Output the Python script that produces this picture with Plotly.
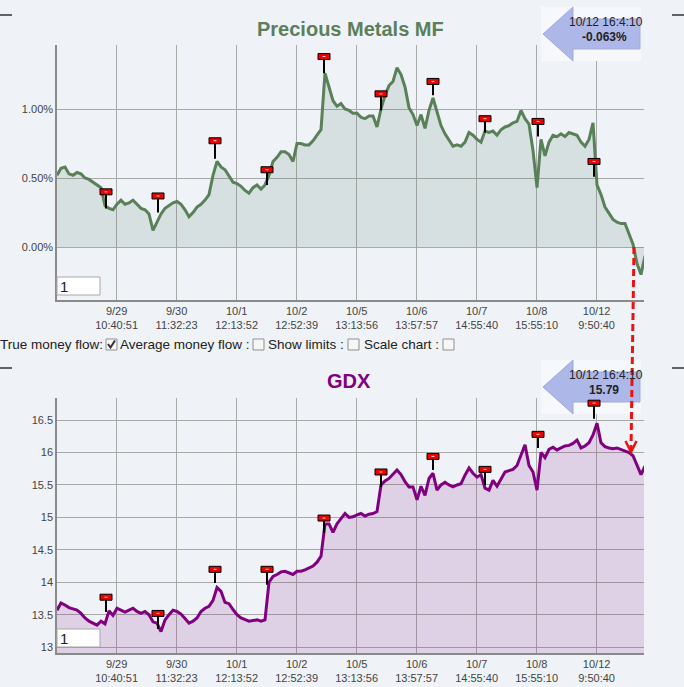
import plotly.graph_objects as go

# ---------------- data ----------------
mf_values = [
    0.52, 0.57, 0.58, 0.53, 0.52, 0.54, 0.53, 0.50, 0.49, 0.47,
    0.45, 0.43, 0.30, 0.28, 0.27, 0.31, 0.34, 0.31, 0.32, 0.34,
    0.31, 0.28, 0.27, 0.24, 0.12, 0.18, 0.24, 0.28, 0.30, 0.32,
    0.33, 0.31, 0.27, 0.22, 0.25, 0.29, 0.31, 0.34, 0.38, 0.52,
    0.62, 0.58, 0.56, 0.51, 0.47, 0.46, 0.44, 0.41, 0.39, 0.43,
    0.45, 0.42, 0.45, 0.52, 0.62, 0.65, 0.69, 0.69, 0.67, 0.62,
    0.75, 0.75, 0.74, 0.74, 0.77, 0.81, 0.85, 1.26, 1.15, 1.06,
    1.02, 1.04, 1.00, 0.99, 0.97, 0.97, 0.94, 0.93, 0.95, 0.95,
    0.87, 1.00, 1.10, 1.17, 1.20, 1.30, 1.25, 1.16, 1.01, 0.96,
    0.88, 0.96, 0.86, 0.99, 1.08, 0.97, 0.88, 0.82, 0.77, 0.73,
    0.74, 0.73, 0.76, 0.83, 0.81, 0.78, 0.76, 0.84, 0.83, 0.84,
    0.81, 0.85, 0.87, 0.88, 0.90, 0.91, 0.99, 0.93, 0.89, 0.70,
    0.43, 0.78, 0.66, 0.76, 0.81, 0.80, 0.82, 0.80, 0.83, 0.82,
    0.81, 0.76, 0.73, 0.78, 0.90, 0.45, 0.38, 0.29, 0.24, 0.20,
    0.18, 0.17, 0.17, 0.09, 0.02, -0.12, -0.20, -0.063,
]

gdx_values = [
    13.57, 13.68, 13.65, 13.61, 13.59, 13.57, 13.52, 13.45, 13.40, 13.37,
    13.34, 13.40, 13.36, 13.56, 13.49, 13.60, 13.57, 13.54, 13.57, 13.60,
    13.55, 13.52, 13.55, 13.50, 13.39, 13.37, 13.24, 13.42, 13.50, 13.57,
    13.55, 13.51, 13.44, 13.37, 13.40, 13.45, 13.55, 13.60, 13.63, 13.72,
    13.92, 13.86, 13.69, 13.67, 13.58, 13.50, 13.45, 13.42, 13.40, 13.41,
    13.42, 13.40, 13.42, 14.00, 14.09, 14.12, 14.16, 14.17, 14.15, 14.12,
    14.17, 14.17, 14.19, 14.22, 14.25, 14.31, 14.40, 14.90, 14.90, 14.77,
    14.90, 14.98, 15.06, 15.00, 15.01, 15.04, 15.06, 15.02, 15.05, 15.06,
    15.09, 15.50, 15.56, 15.60, 15.66, 15.73, 15.66, 15.55, 15.47, 15.47,
    15.27, 15.48, 15.34, 15.60, 15.68, 15.42, 15.50, 15.54, 15.50, 15.47,
    15.50, 15.52, 15.65, 15.76, 15.68, 15.62, 15.66, 15.45, 15.42, 15.57,
    15.48, 15.60, 15.70, 15.72, 15.74, 15.80, 15.95, 16.12, 15.80, 15.70,
    15.42, 16.00, 15.92, 16.05, 16.08, 16.04, 16.07, 16.10, 16.11, 16.14,
    16.19, 16.07, 16.10, 16.15, 16.27, 16.45, 16.15, 16.09, 16.07, 16.06,
    16.07, 16.05, 16.03, 16.00, 15.95, 15.80, 15.66, 15.79,
]

tick_index = [14.9, 29.9, 44.9, 59.9, 74.9, 89.9, 104.9, 119.9, 134.9]
tick_labels = ["9/29<br>10:40:51", "9/30<br>11:32:23", "10/1<br>12:13:52",
               "10/2<br>12:52:39", "10/5<br>13:13:56", "10/6<br>13:57:57",
               "10/7<br>14:55:40", "10/8<br>15:55:10", "10/12<br>9:50:40"]

mf_ticks = [0.0, 0.5, 1.0]
mf_tick_labels = ["0.00%", "0.50%", "1.00%"]
gdx_ticks = [13, 13.5, 14, 14.5, 15, 15.5, 16, 16.5]
gdx_tick_labels = ["13", "13.5", "14", "14.5", "15", "15.5", "16", "16.5"]

flag_idx = [12.25, 25.25, 39.5, 52.5, 66.75, 81, 94, 107, 120.25, 134.25]
mf_flag_hi = [0.40, 0.37, 0.77, 0.56, 1.38, 1.11, 1.20, 0.93, 0.91, 0.62]
mf_flag_lo = [0.28, 0.25, 0.64, 0.45, 1.26, 0.99, 1.10, 0.83, 0.80, 0.51]
gdx_flag_hi = [13.77, 13.52, 14.20, 14.20, 14.99, 15.70, 15.94, 15.74, 16.28, 16.76]
gdx_flag_lo = [13.54, 13.28, 13.99, 13.96, 14.76, 15.47, 15.73, 15.50, 16.07, 16.52]

last_time = "10/12 16:4:10"
mf_last_label = "-0.063%"
gdx_last_label = "15.79"

# ---------------- layout helpers ----------------
W, H = 684, 687
ML, MR = 57, 40
PW = W - ML - MR


def px(x):
    return (x - ML) / PW


def py(y):
    return 1 - y / H


FONT = "Liberation Sans, Arial, sans-serif"
BG = "#eff3f7"
GRID = "#a9a9a9"
MF_LINE = "#5a805a"
GDX_LINE = "#800080"

fig = go.Figure()
xs_mf = list(range(len(mf_values)))
xs_gdx = list(range(len(gdx_values)))

fig.add_trace(go.Scatter(x=xs_mf, y=mf_values, mode="lines", fill="tozeroy",
                         line=dict(color=MF_LINE, width=3),
                         fillcolor="rgba(95,125,105,0.16)",
                         xaxis="x", yaxis="y", hoverinfo="skip"))
fig.add_trace(go.Scatter(x=xs_gdx, y=gdx_values, mode="lines", fill="tozeroy",
                         line=dict(color=GDX_LINE, width=3),
                         fillcolor="rgba(128,20,128,0.15)",
                         xaxis="x2", yaxis="y2", hoverinfo="skip"))


def prect(x0, y0, x1, y1, **kw):
    d = dict(type="rect", xref="paper", yref="paper",
             x0=px(x0), x1=px(x1), y0=py(y1), y1=py(y0))
    d.update(kw)
    return d


def pline(x0, y0, x1, y1, **kw):
    d = dict(type="line", xref="paper", yref="paper",
             x0=px(x0), x1=px(x1), y0=py(y0), y1=py(y1))
    d.update(kw)
    return d


def ppath(pts, **kw):
    closed = kw.pop("closed", False)
    s = "M " + " L ".join(f"{px(a):.5f},{py(b):.5f}" for a, b in pts)
    if closed:
        s += " Z"
    d = dict(type="path", xref="paper", yref="paper", path=s)
    d.update(kw)
    return d


shapes = []

# arrow boxes (drawn first so flags and the red arrow sit on top)
for dy in (0, 353):
    shapes.append(prect(541, 7 + dy, 641, 61 + dy, fillcolor="#f7f8fb",
                        line=dict(width=0)))
    shapes.append(ppath([(543, 34 + dy), (573, 7 + dy), (573, 19 + dy),
                         (640, 19 + dy), (640, 49 + dy), (573, 49 + dy),
                         (573, 61 + dy)], closed=True,
                        fillcolor="#aeb8e8", line=dict(color="#9ea9e0", width=1)))

# flags: stem + red marker
for (hi, lo, xa, ya) in [(mf_flag_hi, mf_flag_lo, "x", "y"),
                         (gdx_flag_hi, gdx_flag_lo, "x2", "y2")]:
    for a, b, c in zip(flag_idx, hi, lo):
        shapes.append(dict(type="line", xref=xa, yref=ya, x0=a, x1=a, y0=c, y1=b,
                           line=dict(color="black", width=2)))
        shapes.append(dict(type="rect", xref=xa, yref=ya,
                           xsizemode="pixel", ysizemode="pixel",
                           xanchor=a, yanchor=b, x0=-6, x1=6, y0=-3, y1=3,
                           fillcolor="#ee0000", line=dict(color="black", width=1)))
        shapes.append(dict(type="rect", xref=xa, yref=ya,
                           xsizemode="pixel", ysizemode="pixel",
                           xanchor=a, yanchor=b, x0=-1.5, x1=1.5, y0=-0.5, y1=0.5,
                           fillcolor="#ffdddd", line=dict(width=0)))

# input boxes "1"
for y0 in (277, 629):
    shapes.append(prect(57, y0, 100, y0 + 18, fillcolor="white",
                        line=dict(color="#a8a8a8", width=1)))

# little dashes at the corners
for y in (15, 368):
    shapes.append(pline(0, y, 12, y, line=dict(color="#333", width=1.5)))
    shapes.append(pline(672, y, 684, y, line=dict(color="#333", width=1.5)))

# checkboxes
for x0 in (106, 253, 348, 443):
    shapes.append(prect(x0, 339, x0 + 11, 350, fillcolor="#f6f6f6",
                        line=dict(color="#8f8f8f", width=1)))
shapes.append(ppath([(108, 344), (110.5, 347.5), (115, 340.5)],
                    line=dict(color="#333", width=2)))

# red dashed arrow between the two charts
shapes.append(dict(type="line", xref="paper", yref="paper",
                   x0=px(634), y0=py(247), x1=px(631), y1=py(450),
                   line=dict(color="#ee1111", width=3, dash="7px,4px")))
shapes.append(ppath([(625.5, 441), (631, 452), (636.5, 441)],
                    line=dict(color="#ee1111", width=2.5)))


def ann(text, x, y, size, color="#222", xanchor="center", **kw):
    return dict(text=text, x=px(x), y=py(y), xref="paper", yref="paper",
                xanchor=xanchor, yanchor="middle", showarrow=False,
                font=dict(size=size, color=color, family=FONT), **kw)


annotations = [
    ann("<b>Precious Metals MF</b>", 350, 29, 20, "#5b7f5b"),
    ann("<b>GDX</b>", 349, 381, 20, "#800080"),
]
for dy, lab in ((0, mf_last_label), (353, gdx_last_label)):
    annotations.append(ann(last_time, 606, 22 + dy, 12))
    annotations.append(ann(f"<b>{lab}</b>", 604, 37 + dy, 12))
for ytxt in (286, 638):
    annotations.append(ann("1", 60, ytxt, 15, xanchor="left", xshift=-2))
for xt, t in ((0, "True money flow:"), (120, "Average money flow :"),
              (268, "Show limits :"), (364, "Scale chart :")):
    annotations.append(ann(t, xt, 345, 13.5, xanchor="left", xshift=-2))

xcommon = dict(range=[0, 146.75], tickvals=tick_index, ticktext=tick_labels,
               showgrid=True, gridcolor=GRID, gridwidth=1, showline=True,
               linecolor="#8a8a8a", linewidth=1.5, zeroline=False, ticks="",
               tickfont=dict(size=11, color="#444", family=FONT))
ycommon = dict(showgrid=True, gridcolor=GRID, gridwidth=1, showline=True,
               linecolor="#8a8a8a", linewidth=1.5, zeroline=False, ticks="",
               tickfont=dict(size=11, color="#444", family=FONT))

fig.update_layout(
    width=W, height=H, autosize=False,
    margin=dict(l=ML, r=MR, t=0, b=0),
    paper_bgcolor=BG, plot_bgcolor=BG,
    showlegend=False,
    font=dict(family=FONT),
    xaxis=dict(domain=[0, 1], anchor="y", **xcommon),
    yaxis=dict(domain=[py(300), py(45)], anchor="x", range=[-0.384, 1.464],
               tickvals=mf_ticks, ticktext=mf_tick_labels, **ycommon),
    xaxis2=dict(domain=[0, 1], anchor="y2", **xcommon),
    yaxis2=dict(domain=[py(653), py(398)], anchor="x2", range=[12.91, 16.84],
                tickvals=gdx_ticks, ticktext=gdx_tick_labels, **ycommon),
    shapes=shapes,
    annotations=annotations,
)

fig.write_html("out.html",
               config={"displayModeBar": False},
               post_script="document.body.style.margin='0';"
                           "document.body.style.padding='0';"
                           "document.body.style.background='" + BG + "';")
